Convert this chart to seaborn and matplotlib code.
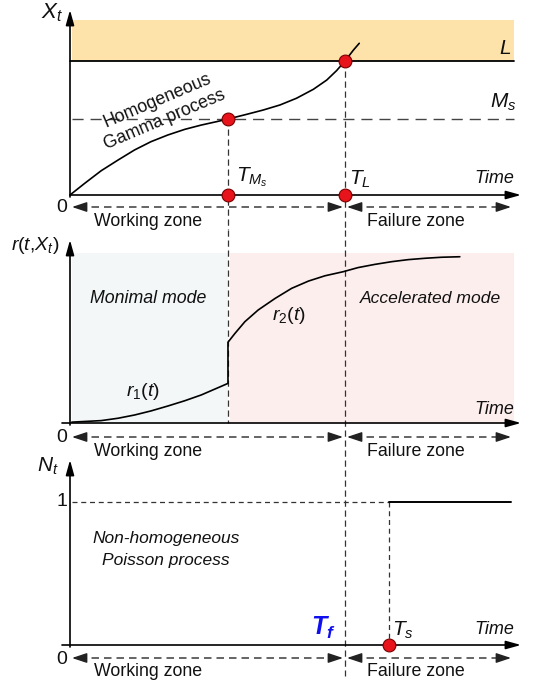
import numpy as np
import pandas as pd
import matplotlib
matplotlib.use("Agg")
import matplotlib.pyplot as plt
import seaborn as sns

# ---------------- data ----------------
gamma_time = [0.00, 0.33, 0.70, 1.08, 1.45, 1.82, 2.20, 2.58, 2.95, 3.33, 3.55,
              3.97, 4.34, 4.72, 5.09, 5.47, 5.77, 5.99, 6.18, 6.37, 6.50]
gamma_level = [0.00, 0.87, 1.81, 2.61, 3.36, 3.98, 4.48, 4.90, 5.22, 5.50, 5.67,
               6.02, 6.34, 6.72, 7.22, 7.89, 8.58, 9.28, 10.00, 10.82, 11.32]

t_ms, ms_level = 3.55, 5.67      # T_Ms, M_s
t_L, L_level = 6.18, 10.0        # T_L, L
band_top = 13.06

r1_time = [0.04, 0.70, 1.08, 1.45, 1.82, 2.20, 2.58, 2.95, 3.33, 3.55]
r1_rate = [0.05, 0.14, 0.28, 0.47, 0.71, 1.00, 1.31, 1.65, 2.08, 2.33]
r2_time = [3.55, 3.71, 3.93, 4.23, 4.61, 4.98, 5.36, 5.73, 6.14, 6.47, 6.85,
           7.23, 7.60, 7.98, 8.35, 8.76]
r2_rate = [4.75, 5.28, 5.96, 6.65, 7.33, 7.92, 8.35, 8.66, 8.90, 9.14, 9.33,
           9.49, 9.61, 9.69, 9.75, 9.78]

t_s = 7.17
n_time = [7.17, 9.91]
n_count = [1, 1]

# ---------------- style ----------------
sns.set_theme(style="white")
plt.rcParams["font.family"] = ["Liberation Sans", "DejaVu Sans"]
plt.rcParams["mathtext.fontset"] = "custom"
plt.rcParams["mathtext.rm"] = "Liberation Sans"
plt.rcParams["mathtext.it"] = "Liberation Sans:italic"
plt.rcParams["mathtext.bf"] = "Liberation Sans:bold"
plt.rcParams["mathtext.bfit"] = "Liberation Sans:italic:bold"

W, H = 534, 683
fig = plt.figure(figsize=(W / 100, H / 100), dpi=100)

SX = 44.5          # px per time unit
X0 = 70            # px of time origin


def tx(px):
    return (px - X0) / SX


ax1 = fig.add_axes([0, 1 - 230 / H, 1, 230 / H])
ax2 = fig.add_axes([0, 1 - 460 / H, 1, 230 / H])
ax3 = fig.add_axes([0, 0, 1, 223 / H])
for ax in (ax1, ax2, ax3):
    ax.set_xlim(tx(0), tx(W))
    ax.axis("off")
ax1.set_ylim((195 - 230) / 13.4, 195 / 13.4)
ax2.set_ylim((423 - 460) / 17, (423 - 230) / 17)
ax3.set_ylim((645 - 683) / 143, (645 - 460) / 143)

DASH_V = dict(color="#333333", lw=0.9, ls=(0, (5, 3)))
ZONE_C = "#4a4a4a"


def axis_arrow(ax, p0, p1):
    ax.annotate("", xy=p1, xytext=p0, annotation_clip=False,
                arrowprops=dict(arrowstyle="-|>,head_length=0.9,head_width=0.25",
                                lw=1.2, color="black", shrinkA=0, shrinkB=0,
                                mutation_scale=10))


def zone_arrows(ax, y):
    segs = [(tx(72), tx(343)), (tx(347), tx(511))]
    for a, b in segs:
        ax.plot([a + 0.15, b - 0.15], [y, y], color=ZONE_C, lw=1.2,
                ls=(0, (4.5, 3)), solid_capstyle="butt")
        for tip, back in ((a, a + 0.3), (b, b - 0.3)):
            ax.annotate("", xy=(tip, y), xytext=(back, y),
                        arrowprops=dict(arrowstyle="-|>,head_length=0.9,head_width=0.3",
                                        lw=1.0, color="#222222", shrinkA=0, shrinkB=0,
                                        mutation_scale=10))


def ft(x, y, s, **kw):
    kw.setdefault("ha", "center")
    kw.setdefault("va", "center")
    kw.setdefault("fontsize", 12.8)
    kw.setdefault("color", "#111111")
    fig.text(x / W, 1 - y / H, s, **kw)


# ---------------- panel 1 : gamma process ----------------
ax1.fill_between([tx(72), tx(514)], L_level, band_top, color="#fde3a9", lw=0, zorder=0)
ax1.plot([tx(70), tx(514)], [L_level, L_level], color="black", lw=1.3, zorder=1)
ax1.plot([tx(72), tx(514)], [ms_level, ms_level], color="#444444", lw=1.0,
         ls=(0, (8, 5)), zorder=1)
ax1.plot([t_ms, t_ms], [ms_level, ax1.get_ylim()[0]], **DASH_V)
ax1.plot([t_L, t_L], [L_level, ax1.get_ylim()[0]], **DASH_V)
gdf = pd.DataFrame({"t": gamma_time, "x": gamma_level})
sns.lineplot(data=gdf, x="t", y="x", ax=ax1, color="black", lw=1.2, sort=False,
             estimator=None, zorder=3)
axis_arrow(ax1, (tx(70), 0), (tx(521), 0))
axis_arrow(ax1, (0, (195 - 197) / 13.4), (0, (195 - 10) / 13.4))
pts1 = pd.DataFrame({"t": [t_ms, t_L, t_ms, t_L], "x": [ms_level, L_level, 0, 0]})
sns.scatterplot(data=pts1, x="t", y="x", ax=ax1, color="#e8141c", edgecolor="#7a0000",
                linewidth=0.8, s=85, zorder=5, clip_on=False)
zone_arrows(ax1, (195 - 207) / 13.4)

# ---------------- panel 2 : degradation rate ----------------
ax2.fill_between([tx(72), t_ms], 0, (423 - 253) / 17, color="#f3f7f7", lw=0, zorder=0)
ax2.fill_between([t_ms + 0.04, tx(514)], 0, (423 - 253) / 17, color="#fdeeee", lw=0, zorder=0)
ax2.plot([t_ms, t_ms], [ax2.get_ylim()[1], 0], **DASH_V)
ax2.plot([t_L, t_L], [ax2.get_ylim()[1], ax2.get_ylim()[0]], **DASH_V)
rdf = pd.DataFrame({"t": r1_time + r2_time, "r": r1_rate + r2_rate})
sns.lineplot(data=rdf, x="t", y="r", ax=ax2, color="black", lw=1.2, sort=False,
             estimator=None, zorder=3)
axis_arrow(ax2, (tx(62), 0), (tx(521), 0))
axis_arrow(ax2, (0, (423 - 425) / 17), (0, (423 - 240) / 17))
zone_arrows(ax2, (423 - 437) / 17)

# ---------------- panel 3 : counting process ----------------
ax3.plot([tx(72), t_s], [1, 1], color="#333333", lw=0.9, ls=(0, (4, 3)))
ax3.plot([t_s, t_s], [1, 0], color="#333333", lw=0.9, ls=(0, (4, 3)))
ax3.plot([t_L, t_L], [ax3.get_ylim()[1], (645 - 676) / 143], **DASH_V)
ndf = pd.DataFrame({"t": n_time, "n": n_count})
sns.lineplot(data=ndf, x="t", y="n", ax=ax3, color="black", lw=1.4, estimator=None)
axis_arrow(ax3, (tx(62), 0), (tx(521), 0))
axis_arrow(ax3, (0, (645 - 647) / 143), (0, (645 - 460) / 143))
sns.scatterplot(x=[t_s], y=[0], ax=ax3, color="#e8141c", edgecolor="#7a0000",
                linewidth=0.8, s=85, zorder=5, clip_on=False)
zone_arrows(ax3, (645 - 658) / 143)

# ---------------- text ----------------
ft(52, 13, r"$X_t$", fontsize=16)
ft(505, 48, r"$L$", fontsize=15)
ft(503, 102, r"$M_s$", fontsize=15)
ft(252, 177, r"$T_{M_s}$", fontsize=15)
ft(360, 179, r"$T_L$", fontsize=15)
ft(514, 178, "Time", ha="right", fontsize=13, style="italic")
ft(161, 110, "Homogeneous\nGamma process", rotation=23, fontsize=12.8,
   linespacing=1.3)
ft(62, 208, "0", fontsize=14)
ft(148, 221, "Working zone")
ft(416, 221, "Failure zone")

ft(35, 245, r"$r(t{,}X_t)$", fontsize=14)
ft(148, 298, "Monimal mode", style="italic", fontsize=12.8)
ft(430, 298, "Accelerated mode", style="italic", fontsize=12.6)
ft(289, 315, r"$r_{\mathit{2}}(t)$", fontsize=14)
ft(143, 392, r"$r_{\mathit{1}}(t)$", fontsize=14)
ft(514, 409, "Time", ha="right", fontsize=13, style="italic")
ft(62, 437, "0", fontsize=14)
ft(148, 451, "Working zone")
ft(416, 451, "Failure zone")

ft(48, 466, r"$N_t$", fontsize=15)
ft(62, 502, "1", fontsize=14)
ft(166, 538, "Non-homogeneous", style="italic", fontsize=12.5)
ft(166, 561, "Poisson process", style="italic", fontsize=12.5)
ft(323, 628, r"$\mathbfit{T}_{\mathbfit{f}}$", fontsize=18, color="#1010ee")
ft(403, 630, r"$T_s$", fontsize=15)
ft(514, 630, "Time", ha="right", fontsize=13, style="italic")
ft(62, 659, "0", fontsize=14)
ft(148, 672, "Working zone")
ft(416, 672, "Failure zone")

fig.savefig("out.png", dpi=100)
